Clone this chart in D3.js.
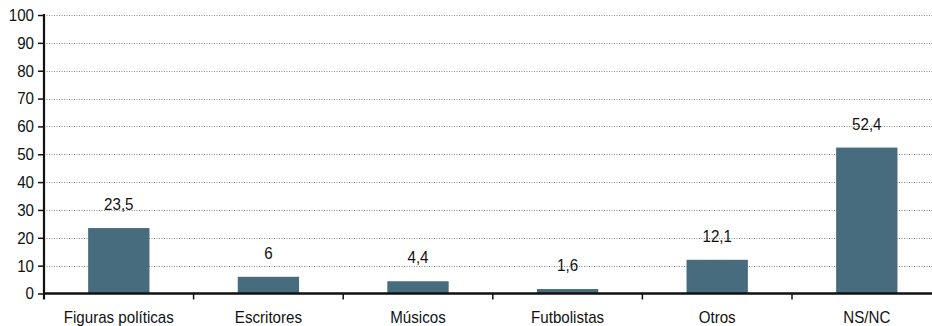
<!DOCTYPE html>
<html>
<head>
<meta charset="utf-8">
<script src="https://cdn.jsdelivr.net/npm/d3@7"></script>
<style>
  html, body { margin: 0; padding: 0; background: #fff; }
  svg { display: block; }
  text { font-family: 'Liberation Sans', Arial, sans-serif; fill: #111; }
</style>
</head>
<body>
<svg id="chart" width="932" height="326"></svg>
<script>
const categories = ["Figuras políticas", "Escritores", "Músicos", "Futbolistas", "Otros", "NS/NC"];
const values = [23.5, 6, 4.4, 1.6, 12.1, 52.4];
const valueLabels = ["23,5", "6", "4,4", "1,6", "12,1", "52,4"];
const yTicks = [0, 10, 20, 30, 40, 50, 60, 70, 80, 90, 100];

const W = 932, H = 326;
const mLeft = 44, mRight = 941.6, mTop = 15, mBottom = 293.5;
const SX = 0.89;  // horizontal condensing of text
const svg = d3.select("#chart");
const FONT = "'Liberation Sans', Arial, sans-serif";

const x = d3.scaleBand().domain(categories).range([mLeft, mRight]).padding(0);
const y = d3.scaleLinear().domain([0, 100]).range([mBottom, mTop]);

// gridlines
svg.append("g").selectAll("line").data(yTicks.filter(t => t > 0)).join("line")
  .attr("x1", mLeft).attr("x2", W)
  .attr("y1", d => Math.round(y(d)) + 0.5).attr("y2", d => Math.round(y(d)) + 0.5)
  .attr("stroke", "#8a8a8a").attr("stroke-width", 1).attr("stroke-dasharray", "1,1.5");

// bars
const barW = x.bandwidth() * 0.41;
svg.append("g").selectAll("rect").data(values).join("rect")
  .attr("x", (d, i) => x(categories[i]) + (x.bandwidth() - barW) / 2)
  .attr("y", d => y(d))
  .attr("width", barW)
  .attr("height", d => mBottom - y(d))
  .attr("fill", "#476c7e");

// value labels
svg.append("g").selectAll("text").data(values).join("text")
  .attr("transform", (d, i) => `translate(${x(categories[i]) + x.bandwidth() / 2},${y(d) - 18}) scale(${SX},1)`)
  .attr("text-anchor", "middle")
  .attr("font-size", 17)
  .text((d, i) => valueLabels[i]);

// y axis
const yAxis = d3.axisLeft(y).tickValues(yTicks).tickSize(6).tickPadding(4).tickFormat(d3.format("d"));
const gy = svg.append("g").attr("transform", `translate(${mLeft},0)`).call(yAxis);
gy.select(".domain").remove();
gy.selectAll(".tick line").attr("stroke", "#111").attr("stroke-width", 1.5);
gy.selectAll(".tick text").attr("font-size", 17).attr("font-family", FONT).attr("fill", "#111")
  .attr("x", -10 / SX).attr("transform", `scale(${SX},1)`);
svg.append("line").attr("x1", mLeft).attr("x2", mLeft).attr("y1", mTop - 1).attr("y2", mBottom + 6)
  .attr("stroke", "#111").attr("stroke-width", 2.2);

// x axis baseline
svg.append("line").attr("x1", mLeft).attr("x2", W).attr("y1", mBottom).attr("y2", mBottom)
  .attr("stroke", "#111").attr("stroke-width", 2.4);

// boundary ticks
const bounds = categories.map(c => x(c)).slice(1);
svg.append("g").selectAll("line").data(bounds).join("line")
  .attr("x1", d => d).attr("x2", d => d)
  .attr("y1", mBottom).attr("y2", mBottom + 6)
  .attr("stroke", "#111").attr("stroke-width", 1.5);

// x labels
const xAxis = d3.axisBottom(x).tickSize(0).tickPadding(0);
const gx = svg.append("g").attr("transform", `translate(0,${mBottom})`).call(xAxis);
gx.select(".domain").remove();
gx.selectAll(".tick text").attr("font-size", 17).attr("dy", null).attr("y", 29.5)
  .attr("transform", `scale(${SX},1)`)
  .attr("font-family", FONT).attr("fill", "#111");
</script>
</body>
</html>
